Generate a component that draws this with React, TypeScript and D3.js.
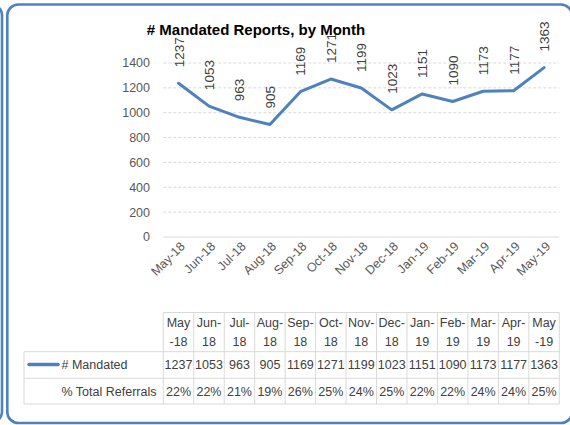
import React from "react";
import * as d3 from "d3";

const months = ["May-18","Jun-18","Jul-18","Aug-18","Sep-18","Oct-18","Nov-18","Dec-18","Jan-19","Feb-19","Mar-19","Apr-19","May-19"];
const headerLines = [["May","-18"],["Jun-","18"],["Jul-","18"],["Aug-","18"],["Sep-","18"],["Oct-","18"],["Nov-","18"],["Dec-","18"],["Jan-","19"],["Feb-","19"],["Mar-","19"],["Apr-","19"],["May","-19"]];
const mandated = [1237,1053,963,905,1169,1271,1199,1023,1151,1090,1173,1177,1363];
const pctReferrals = ["22%","22%","21%","19%","26%","25%","24%","25%","22%","22%","24%","24%","25%"];
const yTicks = [0,200,400,600,800,1000,1200,1400];
const seriesName = "# Mandated";
const secondRowName = "% Total Referrals";
const title = "# Mandated Reports, by Month";

const W = 570, H = 425;
const BLUE = "#4f81bd";
const FONT = "'Liberation Sans', Arial, sans-serif";
const GRID = "#d9d9d9";

export default function App() {
  const x = d3.scaleBand<string>().domain(months).range([163.3, 559.3]);
  const y = d3.scaleLinear().domain([0, 1400]).range([237, 63]);
  const cx = (m: string) => (x(m) as number) + x.bandwidth() / 2;
  const line = d3.line<number>().x((_, i) => cx(months[i])).y((d) => y(d));

  const tTop = 312.5, tH1 = 351.7, tH2 = 378.3, tBot = 404;
  const leftX = 24;

  return (
    <div style={{ position: "absolute", left: 0, top: 0, width: W, height: H, background: "#fff" }}>
      <svg width={W} height={H} style={{ display: "block", fontFamily: FONT }}>
        <rect x={0} y={0} width={W} height={H} fill="#fff" />
        {/* neighbor border */}
        <path d="M -20 4.5 L -9 4.5 A 11 11 0 0 1 2 15.5 L 2 411.5 A 11 11 0 0 1 -9 422.5 L -20 422.5" fill="none" stroke={BLUE} strokeWidth={2.6} />
        {/* frame */}
        <rect x={7.3} y={4.5} width={572 - 7.3} height={423 - 4.5} rx={11} ry={11} fill="#fff" stroke={BLUE} strokeWidth={2.6} />

        {/* grid */}
        {yTicks.map((t) => (
          <g key={t}>
            <line x1={163.3} x2={559.3} y1={y(t)} y2={y(t)} stroke={GRID} strokeWidth={1} strokeDasharray={t === 0 ? undefined : "3,2"} />
            <text x={150} y={y(t)} dy="0.35em" textAnchor="end" fontSize={12.5} fill="#595959">{t}</text>
          </g>
        ))}

        {/* x labels */}
        {months.map((m) => (
          <text key={m} transform={`translate(${cx(m) + 4},${244}) rotate(-45)`} textAnchor="end" dy="0.35em" fontSize={12.5} fill="#595959">{m}</text>
        ))}

        {/* line */}
        <path d={line(mandated) || ""} fill="none" stroke={BLUE} strokeWidth={3} strokeLinejoin="round" strokeLinecap="round" />

        {/* data labels */}
        {mandated.map((v, i) => (
          <text key={i} transform={`translate(${cx(months[i]) + 5},${y(v) - 16}) rotate(-90)`} textAnchor="start" fontSize={13.5} fill="#404040">{v}</text>
        ))}

        {/* title */}
        <text x={256} y={35} textAnchor="middle" fontSize={15} fontWeight="bold" fill="#000">{title}</text>

        {/* table */}
        <g stroke={GRID} strokeWidth={1} fill="none">
          <line x1={163.3} x2={559.3} y1={tTop} y2={tTop} />
          <line x1={leftX} x2={559.3} y1={tH1} y2={tH1} />
          <line x1={leftX} x2={559.3} y1={tH2} y2={tH2} />
          <line x1={leftX} x2={559.3} y1={tBot} y2={tBot} />
          <line x1={leftX} x2={leftX} y1={tH1} y2={tBot} />
          {months.map((m) => (
            <line key={m} x1={x(m) as number} x2={x(m) as number} y1={tTop} y2={tBot} />
          ))}
          <line x1={559.3} x2={559.3} y1={tTop} y2={tBot} />
        </g>
        {months.map((m, i) => (
          <g key={m} fontSize={12.5} fill="#404040" textAnchor="middle">
            <text x={cx(m)} y={323} dy="0.35em">{headerLines[i][0]}</text>
            <text x={cx(m)} y={342} dy="0.35em">{headerLines[i][1]}</text>
            <text x={cx(m)} y={365} dy="0.35em">{mandated[i]}</text>
            <text x={cx(m)} y={391.2} dy="0.35em">{pctReferrals[i]}</text>
          </g>
        ))}
        <line x1={29} x2={58} y1={364.5} y2={364.5} stroke={BLUE} strokeWidth={3.5} strokeLinecap="round" />
        <text x={61.5} y={365} dy="0.35em" fontSize={12.5} fill="#404040">{seriesName}</text>
        <text x={61.5} y={391.2} dy="0.35em" fontSize={12.5} fill="#404040">{secondRowName}</text>
      </svg>
    </div>
  );
}
